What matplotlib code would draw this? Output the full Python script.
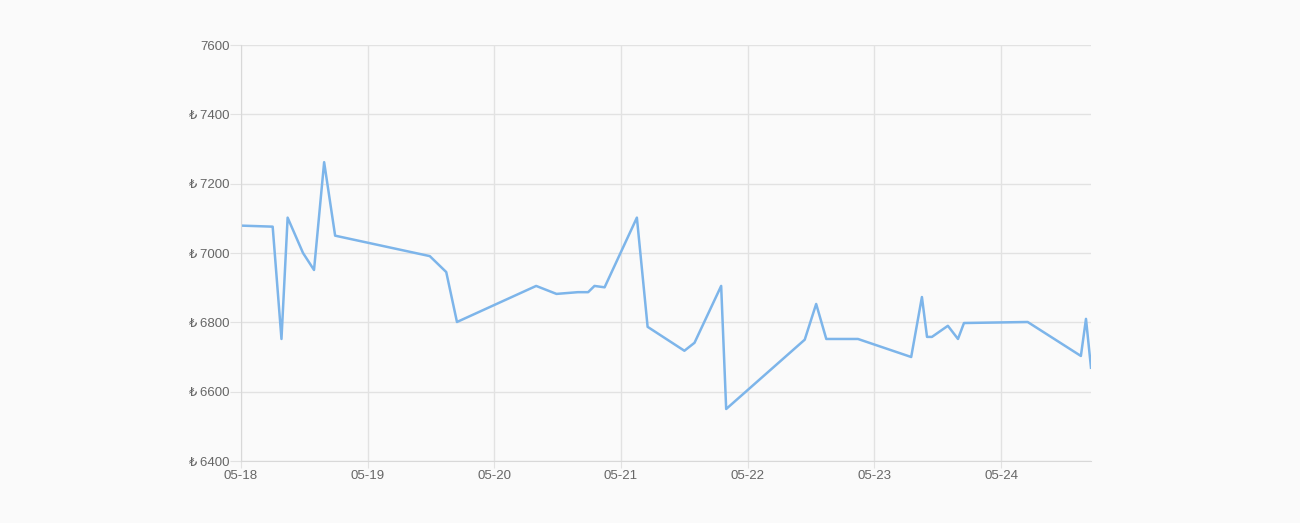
import pandas as pd
import matplotlib.pyplot as plt
import matplotlib.dates as mdates

plt.rcParams['font.family'] = ['Liberation Sans', 'DejaVu Sans']

# Price readings (timestamp, value)
times = [
    "2023-05-18 00:00", "2023-05-18 06:00", "2023-05-18 07:40", "2023-05-18 08:50",
    "2023-05-18 11:45", "2023-05-18 13:50", "2023-05-18 15:45", "2023-05-18 17:50",
    "2023-05-19 11:46", "2023-05-19 14:53", "2023-05-19 16:55",
    "2023-05-20 07:55", "2023-05-20 11:46", "2023-05-20 15:50", "2023-05-20 17:46",
    "2023-05-20 18:58", "2023-05-20 20:53",
    "2023-05-21 03:00", "2023-05-21 05:02", "2023-05-21 12:00", "2023-05-21 13:55",
    "2023-05-21 18:58", "2023-05-21 19:55",
    "2023-05-22 10:48", "2023-05-22 12:58", "2023-05-22 14:53", "2023-05-22 20:53",
    "2023-05-23 06:58", "2023-05-23 09:00", "2023-05-23 09:58", "2023-05-23 10:54",
    "2023-05-23 13:55", "2023-05-23 15:50", "2023-05-23 16:58",
    "2023-05-24 05:02", "2023-05-24 15:07", "2023-05-24 16:05", "2023-05-24 17:02",
]
prices = [
    7079, 7076, 6752, 7102, 7000, 6951, 7262, 7050,
    6991, 6945, 6801,
    6905, 6882, 6887, 6887, 6905, 6901,
    7102, 6787, 6718, 6741, 6905, 6550,
    6750, 6853, 6752, 6752,
    6700, 6873, 6758, 6758, 6790, 6752, 6798,
    6801, 6703, 6810, 6669,
]
y_ticks = [6400, 6600, 6800, 7000, 7200, 7400, 7600]
y_labels = ["₺\u20096400", "₺\u20096600", "₺\u20096800", "₺\u20097000",
            "₺\u20097200", "₺\u20097400", "7600"]

t = pd.to_datetime(times)

fig = plt.figure(figsize=(13, 5.23), dpi=100)
fig.patch.set_facecolor("#fafafa")
ax = fig.add_axes([241 / 1300, 62 / 523, 850 / 1300, 416 / 523])
ax.set_facecolor("#fafafa")

ax.plot(t, prices, color="#7db5ea", linewidth=1.8)

ax.set_xlim(t[0], t[-1])
ax.set_ylim(6400, 7600)
ax.set_yticks(y_ticks)
ax.set_yticklabels(y_labels)
ax.xaxis.set_major_locator(mdates.DayLocator())
ax.xaxis.set_major_formatter(mdates.DateFormatter("%m-%d"))

ax.grid(True, color="#e2e2e2", linewidth=1)
ax.set_axisbelow(True)
for side in ["top", "right"]:
    ax.spines[side].set_visible(False)
for side in ["left", "bottom"]:
    ax.spines[side].set_color("#d8d8d8")
ax.tick_params(colors="#e2e2e2", labelcolor="#666666", labelsize=9.5)
ax.tick_params(axis="y", length=8, pad=0)
ax.tick_params(axis="x", length=5, pad=1.5)

plt.savefig("out.png", facecolor=fig.get_facecolor())
